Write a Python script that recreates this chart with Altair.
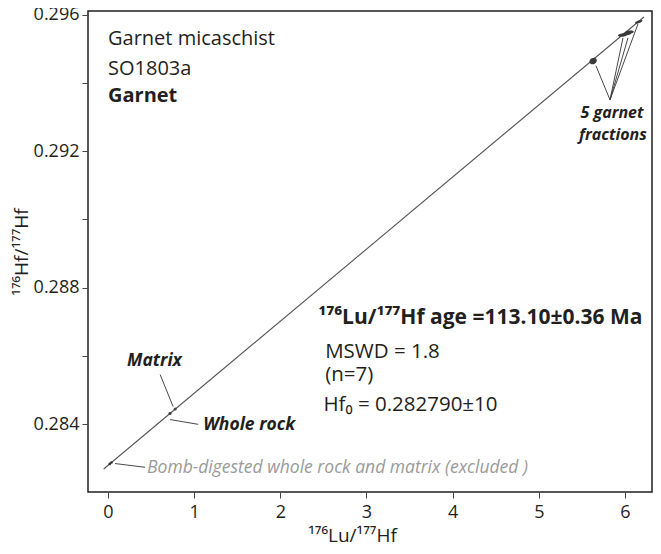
import altair as alt
import pandas as pd

# ---- data ----
garnet_x = [5.63, 5.97, 6.02, 6.05, 6.16]
garnet_y = [0.29465, 0.29541, 0.29545, 0.29550, 0.29580]
rock_names = ["Whole rock", "Matrix"]
rock_x = [0.72, 0.78]
rock_y = [0.28431, 0.28444]
bomb_x = [0.02, 0.04]
bomb_y = [0.28283, 0.28287]
iso_x = [-0.05, 6.22]
iso_y = [0.28268, 0.29594]
x_ticks = [0, 1, 2, 3, 4, 5, 6]
y_ticks = [0.284, 0.286, 0.288, 0.290, 0.292, 0.294, 0.296]
y_labels = ["0.284", "0.288", "0.292", "0.296"]

# leader lines (data coordinates): start -> end
lead_x = [0.605, 1.047, 0.430, 5.826, 5.826, 5.826, 5.826]
lead_y = [0.28545, 0.28399, 0.28273, 0.29351, 0.29351, 0.29351, 0.29351]
lead_x2 = [0.756, 0.721, 0.081, 5.663, 5.977, 6.035, 6.151]
lead_y2 = [0.28451, 0.28413, 0.28284, 0.29451, 0.29533, 0.29533, 0.29574]

# ---- text annotations ----
reg_text = ["Garnet micaschist", "SO1803a"]
reg_x = [0.0, 0.0]
reg_y = [0.29512, 0.29424]

bold_text = ["Garnet"]
bold_x = [0.0]
bold_y = [0.29345]

age_text = ["\u00b9\u2077\u2076Lu/\u00b9\u2077\u2077Hf age =113.10\u00b10.36 Ma"]
age_x = [2.44]
age_y = [0.28692]

stat_text = ["MSWD = 1.8", "(n=7)", "Hf\u2080 = 0.282790\u00b110"]
stat_x = [2.52, 2.52, 2.50]
stat_y = [0.28595, 0.28525, 0.28437]

bi_text = ["Matrix", "Whole rock"]
bi_x = [0.221, 1.105]
bi_y = [0.28569, 0.28381]

frac_text = ["5 garnet", "fractions"]
frac_x = [5.85, 5.86]
frac_y = [0.29298, 0.29234]

gray_text = ["Bomb-digested whole rock and matrix (excluded )"]
gray_x = [0.453]
gray_y = [0.28255]

FONT = "Open Sans"
INK = "#231f20"

xs = alt.Scale(domain=[-0.2321, 6.3134], nice=False, zero=False)
ys = alt.Scale(domain=[0.282005, 0.296117], nice=False, zero=False)

xaxis = alt.Axis(values=x_ticks, format="d", grid=False, domain=False,
                 tickSize=6, tickColor="#444", labelFontSize=18, labelFont=FONT,
                 labelColor=INK, labelPadding=5, titleFont=FONT, titleFontSize=19,
                 titleFontWeight="normal", titleColor=INK, titleX=264, titleY=49,
                 titleBaseline="alphabetic", titleAnchor="start", titleAlign="center")
yaxis = alt.Axis(values=y_ticks, format=".3f", grid=False, domain=False,
                 tickSize=6, tickColor="#444", labelFontSize=18, labelFont=FONT,
                 labelColor=INK, labelPadding=3,
                 labelExpr="indexof(" + str(y_labels) + ", datum.label) >= 0 ? datum.label : ''",
                 titleFont=FONT, titleFontSize=19, titleFontWeight="normal",
                 titleColor=INK, titleX=-61, titleBaseline="alphabetic")

XT = "\u00b9\u2077\u2076Lu/\u00b9\u2077\u2077Hf"
YT = "\u00b9\u2077\u2076Hf/\u00b9\u2077\u2077Hf"


def X(field="x"):
    return alt.X(field + ":Q", scale=xs, axis=xaxis, title=XT)


def Y(field="y"):
    return alt.Y(field + ":Q", scale=ys, axis=yaxis, title=YT)


iso = alt.Chart(pd.DataFrame({"x": iso_x, "y": iso_y})).mark_line(
    color="#555", strokeWidth=1.1).encode(x=X(), y=Y())

leaders = alt.Chart(pd.DataFrame({"x": lead_x, "y": lead_y, "x2": lead_x2, "y2": lead_y2})).mark_rule(
    color="#333", strokeWidth=0.9).encode(x=X(), y=Y(), x2="x2:Q", y2="y2:Q")

ELL = "M -1 0 A 1 0.35 0 1 1 1 0 A 1 0.35 0 1 1 -1 0 Z"
ELL_ROUND = "M -1 0 A 1 0.8 0 1 1 1 0 A 1 0.8 0 1 1 -1 0 Z"

gdf = pd.DataFrame({"x": garnet_x, "y": garnet_y})
g_first = alt.Chart(gdf.iloc[:1]).mark_point(
    shape=ELL_ROUND, filled=True, color="#3a3a3a", opacity=1, size=60, angle=330).encode(x=X(), y=Y())
g_mid = alt.Chart(gdf.iloc[1:4]).mark_point(
    shape=ELL, filled=True, color="#3a3a3a", opacity=1, size=80, angle=355).encode(x=X(), y=Y())
g_top = alt.Chart(gdf.iloc[4:]).mark_point(
    shape=ELL, filled=True, color="#3a3a3a", opacity=1, size=64, angle=340).encode(x=X(), y=Y())

rocks = alt.Chart(pd.DataFrame({"x": rock_x, "y": rock_y, "n": rock_names})).mark_point(
    shape="circle", filled=True, color="#444", opacity=1, size=10).encode(x=X(), y=Y())
bombs = alt.Chart(pd.DataFrame({"x": bomb_x, "y": bomb_y})).mark_point(
    shape="circle", filled=True, color="#333", opacity=1, size=7).encode(x=X(), y=Y())


def txt(texts, xv, yv, size, weight="normal", style="normal", color=INK, align="left"):
    return alt.Chart(pd.DataFrame({"x": xv, "y": yv, "t": texts})).mark_text(
        font=FONT, fontSize=size, fontWeight=weight, fontStyle=style, color=color,
        align=align, baseline="alphabetic").encode(x=X(), y=Y(), text="t:N")


layers = [
    iso, leaders, g_first, g_mid, g_top, rocks, bombs,
    txt(reg_text, reg_x, reg_y, 20),
    txt(bold_text, bold_x, bold_y, 20, weight="bold"),
    txt(age_text, age_x, age_y, 21, weight="bold"),
    txt(stat_text, stat_x, stat_y, 20.5),
    txt(bi_text, bi_x, bi_y, 17.5, weight="bold", style="italic"),
    txt(frac_text, frac_x, frac_y, 16, weight="bold", style="italic", align="center"),
    txt(gray_text, gray_x, gray_y, 17.5, style="italic", color="#9a9a9a"),
]

chart = alt.layer(*layers).properties(
    width=564, height=481,
    autosize=alt.AutoSizeParams(type="none"),
    padding={"left": 80, "top": 3, "right": 1, "bottom": 54},
    view=alt.ViewBackground(stroke=INK, strokeWidth=1.5),
).configure_view(stroke=INK, strokeWidth=1.5)

chart.save("out.html", embed_options={"renderer": "svg", "actions": False})
